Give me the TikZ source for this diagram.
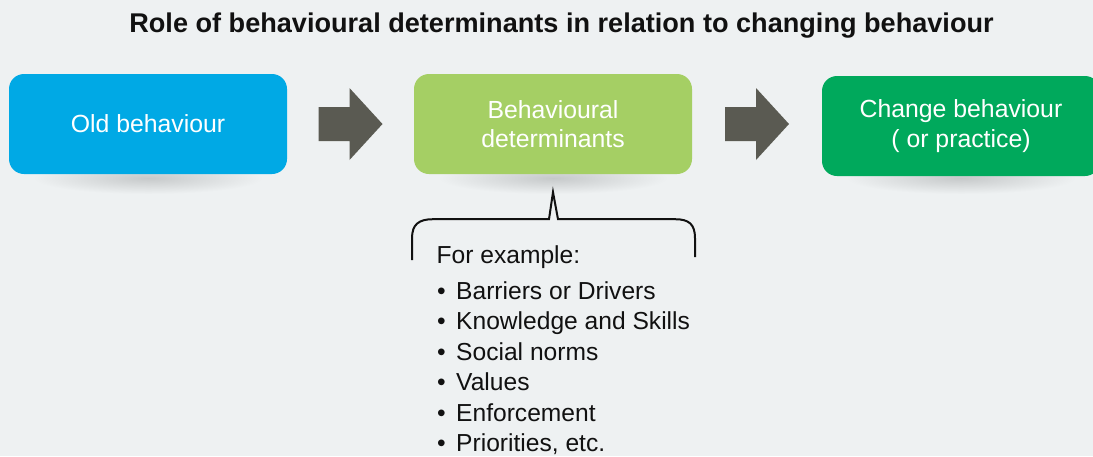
\documentclass[tikz,border=0pt]{standalone}
\usepackage{fontspec}
\setmainfont{Liberation Sans}
\newfontfamily\titlef{Liberation Sans Bold}
\newfontfamily\listf{Liberation Sans}
\usetikzlibrary{calc}
\definecolor{bgc}{HTML}{EEF1F2}
\definecolor{oldc}{HTML}{00A9E5}
\definecolor{detc}{HTML}{A5CF64}
\definecolor{chgc}{HTML}{00A95C}
\definecolor{arrc}{HTML}{5A5A52}
\definecolor{shc}{HTML}{C6C9CA}
\definecolor{txtc}{HTML}{111111}
\begin{document}
\begin{tikzpicture}[x=1pt,y=-1pt,
  box/.style={rectangle, rounded corners=15pt, minimum width=278pt, minimum height=100pt,
    inner sep=0pt, text=white, align=center, font=\fontsize{24.8}{29.5}\selectfont},
  boxshadow/.style={inner color=shc, outer color=bgc},
  bigarrow/.style={fill=arrc},
  brace/.style={draw=txtc, line width=2pt, line join=miter},
  titletext/.style={anchor=base, text=txtc, font=\titlef\fontsize{27.1}{30}\selectfont, inner sep=0pt},
  itemtext/.style={anchor=base west, text=txtc, font=\listf\fontsize{24.6}{28}\selectfont, inner sep=0pt}]
\fill[bgc] (0,0) rectangle (1093,456);
\useasboundingbox (0,0) rectangle (1093,456);
% centres of the boxes
\coordinate (cold) at (148,124);
\coordinate (cdet) at (553,124);
\coordinate (cchg) at (961,124);
% soft shadows under the boxes
\foreach \c in {cold,cdet,cchg}{
  \shade[boxshadow] ($(\c)+(0,54)$) ellipse [x radius=115, y radius=16];
}
% title
\node[titletext] (title) at (561.5,32) {Role of behavioural determinants in relation to changing behaviour};
% boxes
\node[box, fill=oldc] (old) at (cold) {Old behaviour};
\node[box, fill=detc] (det) at (cdet) {Behavioural\\determinants};
\node[box, fill=chgc] (chg) at ($(cchg)+(0,2)$) {Change behaviour\\( or practice)};
% block arrows between the boxes
\path (old.east) -- (det.west) coordinate[pos=0.5] (m1);
\path (det.east) -- (chg.west |- det.east) coordinate[pos=0.5] (m2);
\foreach \m in {m1,m2}{
  \fill[bigarrow] ($(\m)+(-32,-17)$) -- ($(\m)+(-1,-17)$) -- ($(\m)+(-1,-36)$)
    -- ($(\m)+(32,0)$) -- ($(\m)+(-1,36)$) -- ($(\m)+(-1,17)$) -- ($(\m)+(-32,17)$) -- cycle;
}
% brace under the determinants box
\draw[brace] ($(det.south)+(-141,86)$) -- ($(det.south)+(-141,64)$)
  .. controls ($(det.south)+(-141,50)$) and ($(det.south)+(-134,45)$) .. ($(det.south)+(-120,45)$)
  -- ($(det.south)+(-4,45)$) -- ($(det.south)+(0,18)$) -- ($(det.south)+(5,45)$)
  -- ($(det.south)+(122,45)$)
  .. controls ($(det.south)+(136,45)$) and ($(det.south)+(142,50)$) .. ($(det.south)+(142,64)$)
  -- ($(det.south)+(142,83)$);
% list of examples
\node[itemtext] (ex) at (436.5,263) {For example:};
\node[itemtext] (l1) at (437,299) {\makebox[19pt][l]{•}Barriers or Drivers};
\node[itemtext] (l2) at (437,329.5) {\makebox[19pt][l]{•}Knowledge and Skills};
\node[itemtext] (l3) at (437,360) {\makebox[19pt][l]{•}Social norms};
\node[itemtext] (l4) at (437,390.5) {\makebox[19pt][l]{•}Values};
\node[itemtext] (l5) at (437,421) {\makebox[19pt][l]{•}Enforcement};
\node[itemtext] (l6) at (437,451.5) {\makebox[19pt][l]{•}Priorities, etc.};
\end{tikzpicture}
\end{document}
